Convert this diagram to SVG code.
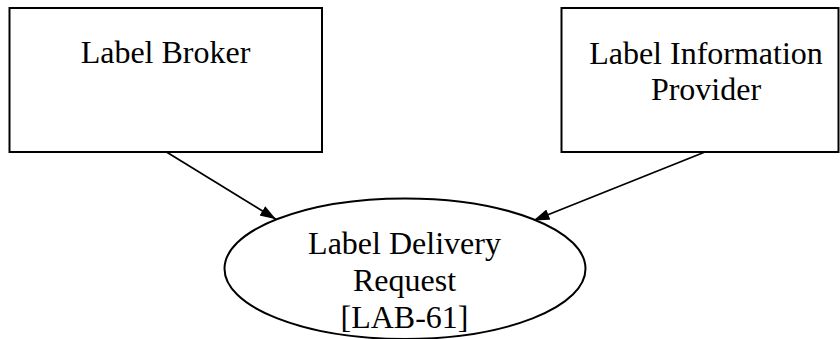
<svg xmlns="http://www.w3.org/2000/svg" width="840" height="339" viewBox="0 0 840 339">
<style>
.shape{fill:#ffffff;stroke:#000000;stroke-width:2}
.lbl{font-family:"Liberation Serif","Times New Roman",serif;font-size:32px;fill:#000000;text-anchor:middle}
.edge{stroke:#000000;stroke-width:1.8;fill:none;marker-end:url(#arrow)}
</style>
<defs>
<marker id="arrow" markerUnits="userSpaceOnUse" markerWidth="17" markerHeight="12" refX="16" refY="5.5" orient="auto" viewBox="0 0 17 12">
<path d="M0,0 L16,5.5 L0,11 z" fill="#000000"/>
</marker>
</defs>
<rect width="840" height="339" fill="#ffffff"/>
<g id="connectors">
<line class="edge" x1="166.5" y1="152" x2="276" y2="219.3"/>
<line class="edge" x1="705" y1="152" x2="533.5" y2="220.5"/>
</g>
<g id="label-broker">
<rect class="shape" x="9.5" y="8" width="312.5" height="144"/>
<text class="lbl" x="165.5" y="63">Label Broker</text>
</g>
<g id="label-information-provider">
<rect class="shape" x="561.5" y="8" width="277" height="144"/>
<text class="lbl" x="706" y="64">Label Information</text>
<text class="lbl" x="706" y="100">Provider</text>
</g>
<g id="label-delivery-request">
<ellipse class="shape" cx="405" cy="268.7" rx="180.5" ry="70.3"/>
<text class="lbl" x="404.5" y="254">Label Delivery</text>
<text class="lbl" x="404.5" y="291">Request</text>
<text class="lbl" x="404.5" y="328">[LAB-61]</text>
</g>
</svg>
